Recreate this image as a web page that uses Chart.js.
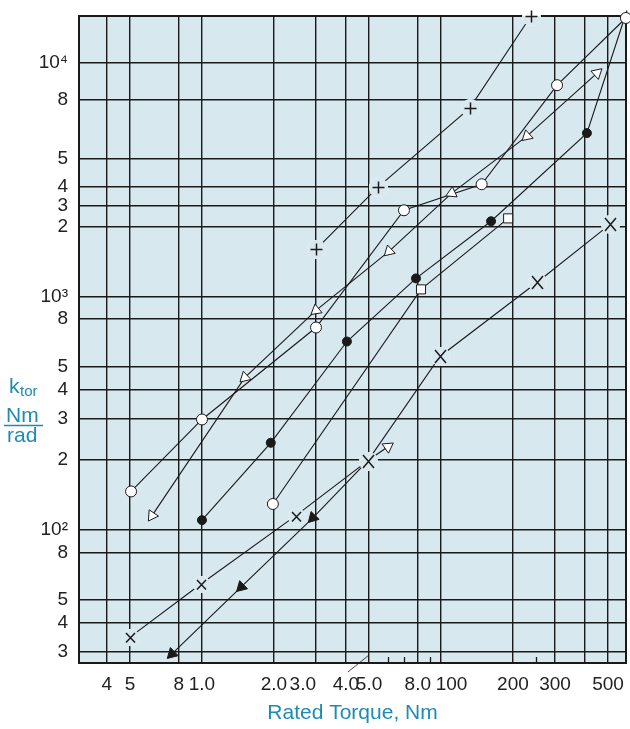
<!DOCTYPE html>
<html>
<head>
<meta charset="utf-8">
<script src="https://cdn.jsdelivr.net/npm/chart.js@4.4.0/dist/chart.umd.min.js"></script>
<style>
  html, body { margin: 0; padding: 0; background: #fff; }
  #wrap { position: relative; width: 630px; height: 729px; }
</style>
</head>
<body>
<div id="wrap"><canvas id="stiffChart"></canvas></div>
<script>
// rated torque (Nm) / torsional stiffness (Nm/rad)
const circleTorque = [5.05, 10, 30, 70, 148, 306, 594];
const circleStiff  = [146, 297, 736, 2340, 3025, 8040, 15600];
const dotTorque    = [10, 19.4, 40.4, 78.6, 162, 408, 600];
const dotStiff     = [110, 236, 641, 1195, 2100, 5010, 16800];
const plusTorque   = [30, 54.5, 132, 238];
const plusStiff    = [1590, 2940, 6410, 15900];
const squareTorque = [19.8, 82.5, 191];
const squareStiff  = [129, 1072, 2160];
const triTorque    = [6.18, 15.1, 30, 60.6, 111, 229, 450];
const triStiff     = [115, 449, 871, 1560, 2770, 4860, 9060];
const crossTorque  = [5.0, 9.9, 24.7, 49.5, 99, 252, 510];
const crossStiff   = [34.7, 58.6, 115, 198, 553, 1148, 2037];
const arrowTorque  = [7.49, 14.6, 29.1, 49.5];
const arrowStiff   = [29.4, 56.9, 112.6, 198];
const tailTorque   = [49.5, 60];
const tailStiff    = [198, 227];

const xTicks = [4, 5, 8, 10, 20, 30, 40, 50, 80, 100, 200, 300, 400, 500];
// the printed labels sit a little off their lines in places, hence the spaces
const xTickLabels = ['4', '5', '8', '1.0', '2.0', '3.0     ', '4.0', '5.0', '8.0', '    100', '200', '300', '', '500'];
const xMinorTicks = [60, 70, 90, 250];
const yTicks = [30, 40, 50, 80, 100, 200, 300, 400, 500, 800, 1000, 1997, 2458, 2939, 3908, 6934, 10000];
const yTickLabels = ['3', '4', '5', '8', '10²', '2', '3', '4', '5', '8', '10³', '2', '3', '4', '5', '8', '10⁴'];

const PLOT_BG = '#d8e8ef';
const INK = '#1a1a1a';
const TEAL = '#1e8bb3';

Chart.defaults.font.family = "'Liberation Sans', Arial, sans-serif";

function pts(xs, ys) {
  return xs.map((x, i) => ({ x: x, y: ys[i] }));
}

// plot background, frame, small bottom ticks and the y-axis caption
const frame = {
  id: 'frame',
  beforeDraw(chart) {
    const { ctx, chartArea: a } = chart;
    ctx.save();
    ctx.fillStyle = PLOT_BG;
    ctx.fillRect(a.left, a.top, a.right - a.left, a.bottom - a.top);
    ctx.restore();
  },
  beforeDatasetsDraw(chart) {
    const { ctx, chartArea: a, scales } = chart;
    ctx.save();
    ctx.strokeStyle = INK;
    ctx.lineWidth = 1.3;
    ctx.beginPath();
    xMinorTicks.forEach(v => {
      const px = Math.round(scales.x.getPixelForValue(v)) + 0.5;
      ctx.moveTo(px, a.bottom); ctx.lineTo(px, a.bottom - 6);
    });
    ctx.stroke();
    ctx.lineWidth = 0.8;
    ctx.beginPath();
    ctx.moveTo(scales.x.getPixelForValue(40.8), a.bottom + 9);
    ctx.lineTo(scales.x.getPixelForValue(50), a.bottom - 8);
    ctx.stroke();
    ctx.lineWidth = 2;
    ctx.strokeRect(a.left, a.top, a.right - a.left, a.bottom - a.top);
    ctx.restore();
  },
  afterDraw(chart) {
    const ctx = chart.ctx;
    ctx.save();
    ctx.fillStyle = TEAL;
    ctx.strokeStyle = TEAL;
    ctx.textBaseline = 'alphabetic';
    ctx.font = "21px 'Liberation Sans', Arial, sans-serif";
    ctx.fillText('k', 9, 393);
    ctx.font = "15px 'Liberation Sans', Arial, sans-serif";
    ctx.fillText('tor', 20, 396);
    ctx.font = "21px 'Liberation Sans', Arial, sans-serif";
    ctx.fillText('Nm', 6, 422);
    ctx.fillText('rad', 7, 442);
    ctx.lineWidth = 1.5;
    ctx.beginPath();
    ctx.moveTo(4, 425.5); ctx.lineTo(43, 425.5);
    ctx.stroke();
    ctx.restore();
  }
};

// + and x marks, with a patch behind them so lines and grid break around them
const marks = {
  id: 'marks',
  afterDatasetsDraw(chart) {
    const { ctx, chartArea: a } = chart;
    chart.data.datasets.forEach((ds, i) => {
      if (!ds.marks) return;
      chart.getDatasetMeta(i).data.forEach((el, j) => {
        const kind = ds.marks[j];
        const x = Math.round(el.x) + 0.5;
        const y = Math.round(el.y) + 0.5;
        const r = kind === 'x' ? 8.5 : 9.5;
        ctx.save();
        ctx.fillStyle = '#fff';
        ctx.beginPath(); ctx.arc(x, y, r, 0, Math.PI * 2); ctx.fill();
        ctx.save();
        ctx.beginPath();
        ctx.rect(a.left, a.top, a.right - a.left, a.bottom - a.top);
        ctx.clip();
        ctx.fillStyle = PLOT_BG;
        ctx.beginPath(); ctx.arc(x, y, r, 0, Math.PI * 2); ctx.fill();
        ctx.restore();
        ctx.strokeStyle = INK;
        ctx.lineWidth = 1.5;
        ctx.beginPath();
        if (kind === '+') {
          ctx.moveTo(x - 6, y); ctx.lineTo(x + 6, y);
          ctx.moveTo(x, y - 6); ctx.lineTo(x, y + 6);
        } else if (kind === 'X') {
          ctx.moveTo(x - 5.5, y - 6.5); ctx.lineTo(x + 5.5, y + 6.5);
          ctx.moveTo(x + 5.5, y - 6.5); ctx.lineTo(x - 5.5, y + 6.5);
        } else {
          ctx.moveTo(x - 4.5, y - 4.5); ctx.lineTo(x + 4.5, y + 5);
          ctx.moveTo(x + 4.5, y - 4.5); ctx.lineTo(x - 4.5, y + 5);
        }
        ctx.stroke();
        ctx.restore();
      });
    });
  }
};

const lineBase = { showLine: true, borderColor: INK, borderWidth: 1.1, clip: false, pointBorderColor: INK, pointBorderWidth: 1 };

new Chart(document.getElementById('stiffChart'), {
  type: 'scatter',
  data: {
    datasets: [
      Object.assign({}, lineBase, {
        data: pts(crossTorque, crossStiff),
        marks: ['x', 'x', 'x', 'X', 'X', 'X', 'X'],
        pointRadius: 0
      }),
      Object.assign({}, lineBase, {
        data: pts(plusTorque, plusStiff),
        marks: ['+', '+', '+', '+'],
        pointRadius: 0
      }),
      Object.assign({}, lineBase, {
        data: pts(tailTorque, tailStiff),
        pointStyle: 'triangle',
        pointRadius: [0, 6.5],
        rotation: [0, 55],
        pointBackgroundColor: '#fff'
      }),
      Object.assign({}, lineBase, {
        data: pts(arrowTorque, arrowStiff),
        pointStyle: 'triangle',
        pointRadius: [6.5, 6.5, 6.5, 0],
        rotation: [226, 226, 224, 0],
        pointBackgroundColor: INK
      }),
      Object.assign({}, lineBase, {
        data: pts(squareTorque, squareStiff),
        pointStyle: ['circle', 'rect', 'rect'],
        pointRadius: [5.5, 6.4, 6.4],
        pointBackgroundColor: '#fff'
      }),
      Object.assign({}, lineBase, {
        data: pts(triTorque, triStiff),
        pointStyle: 'triangle',
        pointRadius: 6.5,
        rotation: [214, 227, 231, 227, 245, 228, 48],
        pointBackgroundColor: '#fff'
      }),
      Object.assign({}, lineBase, {
        data: pts(circleTorque, circleStiff),
        pointStyle: 'circle',
        pointRadius: 5.5,
        pointBackgroundColor: '#fff'
      }),
      Object.assign({}, lineBase, {
        data: pts(dotTorque, dotStiff),
        pointStyle: 'circle',
        pointRadius: 4.5,
        pointBackgroundColor: INK
      })
    ]
  },
  options: {
    responsive: true,
    maintainAspectRatio: false,
    animation: false,
    events: [],
    layout: { autoPadding: false, padding: { top: 16, right: 4, left: 0, bottom: 0 } },
    plugins: {
      legend: { display: false },
      tooltip: { enabled: false }
    },
    scales: {
      x: {
        type: 'logarithmic',
        min: 3.058,
        max: 594.6,
        afterBuildTicks: (scale) => { scale.ticks = xTicks.map(v => ({ value: v })); },
        afterFit: (scale) => { scale.height = 66; scale.paddingLeft = 0; scale.paddingRight = 0; },
        grid: { color: INK, lineWidth: 1.4, drawTicks: false },
        border: { display: false },
        ticks: {
          autoSkip: false, maxRotation: 0, minRotation: 0, padding: 10,
          color: '#222', font: { size: 19 },
          callback: (value, index) => xTickLabels[index]
        },
        title: {
          display: true, text: 'Rated Torque, Nm', color: TEAL,
          font: { size: 21 }, padding: { top: 0, bottom: 3 }
        }
      },
      y: {
        type: 'logarithmic',
        min: 26.87,
        max: 15910,
        afterBuildTicks: (scale) => { scale.ticks = yTicks.map(v => ({ value: v })); },
        afterFit: (scale) => { scale.width = 79; scale.paddingTop = 0; scale.paddingBottom = 0; },
        grid: { color: INK, lineWidth: 1.4, drawTicks: false },
        border: { display: false },
        ticks: {
          autoSkip: false, padding: 11,
          color: '#222', font: { size: 19 },
          callback: (value, index) => yTickLabels[index]
        }
      }
    }
  },
  plugins: [frame, marks]
});
</script>
</body>
</html>
